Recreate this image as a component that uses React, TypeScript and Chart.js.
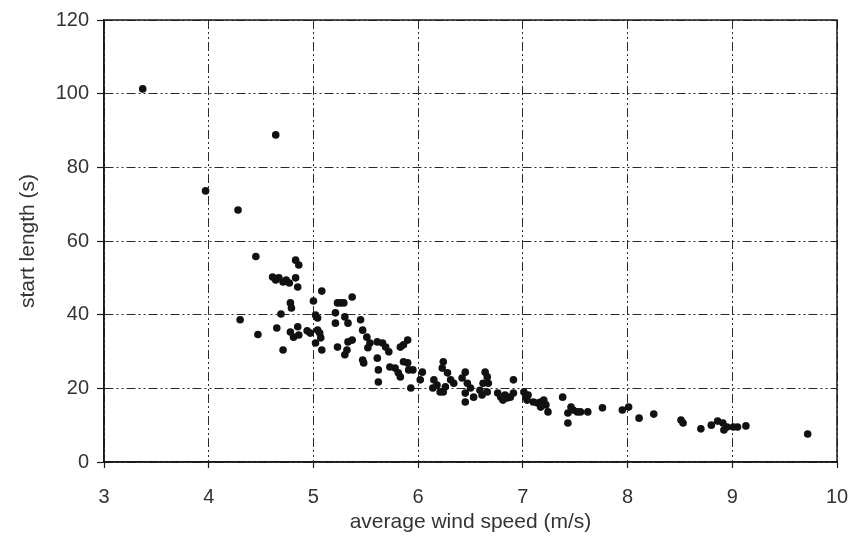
import React, { useEffect, useRef } from "react";
import { Chart, registerables } from "chart.js";

Chart.register(...registerables);

const windSpeed = [
  3.37, 3.97, 4.28, 4.64, 4.45, 4.30, 4.47, 4.83, 4.86, 4.61,
  4.64, 4.67, 4.71, 4.74, 4.77, 4.83, 4.85, 5.08, 5.00, 4.78,
  4.79, 4.69, 5.02, 5.04, 5.23, 5.21, 4.65, 4.85, 4.78, 4.81,
  4.86, 4.94, 4.97, 5.04, 5.06, 5.07, 5.02, 5.08, 4.71, 5.23,
  5.37, 5.26, 5.29, 5.21, 5.30, 5.33, 5.45, 5.47, 5.33, 5.37,
  5.30, 5.32, 5.51, 5.54, 5.52, 5.61, 5.66, 5.69, 5.72, 5.47,
  5.48, 5.61, 5.62, 5.83, 5.90, 5.73, 5.78, 5.81, 5.83, 5.86,
  5.90, 5.62, 5.91, 5.86, 5.95, 6.04, 6.02, 5.93, 6.24, 6.23,
  6.28, 6.31, 6.34, 6.15, 6.18, 6.14, 6.21, 6.24, 6.26, 6.45,
  6.42, 6.47, 6.50, 6.45, 6.45, 6.53, 6.64, 6.66, 6.62, 6.67,
  6.59, 6.66, 6.61, 6.76, 6.79, 6.85, 6.91, 6.83, 6.88, 6.91,
  6.81, 7.01, 7.03, 7.04, 7.05, 7.10, 7.14, 7.17, 7.20, 7.22,
  7.24, 7.17, 7.38, 7.43, 7.46, 7.48, 7.52, 7.55, 7.62, 7.43,
  7.76, 7.95, 8.01, 8.11, 8.25, 8.51, 8.53, 8.70, 8.80, 8.86,
  8.91, 8.92, 8.95, 9.01, 9.05, 9.13, 9.72,
];

const startLength = [
  101.3, 73.6, 68.4, 88.8, 55.8, 38.6, 34.6, 54.8, 53.5, 50.2,
  49.4, 50.0, 48.9, 49.4, 48.6, 50.0, 47.5, 46.4, 43.7, 43.2,
  41.8, 40.2, 39.9, 39.1, 43.2, 37.7, 36.4, 36.7, 35.3, 33.9,
  34.5, 35.6, 35.0, 35.8, 35.0, 33.7, 32.3, 30.4, 30.4, 31.2,
  44.8, 43.2, 43.2, 40.5, 39.4, 37.7, 38.6, 35.8, 32.6, 33.1,
  29.1, 30.4, 33.9, 32.3, 31.0, 32.6, 32.3, 31.2, 29.9, 27.7,
  26.9, 28.2, 25.0, 31.2, 33.1, 25.8, 25.5, 24.2, 23.1, 27.2,
  26.9, 21.7, 25.0, 31.8, 25.0, 24.4, 22.3, 20.1, 27.2, 25.5,
  24.2, 22.3, 21.4, 22.3, 20.9, 20.1, 19.0, 19.0, 20.4, 24.4,
  22.8, 21.4, 20.1, 18.7, 16.3, 17.6, 24.4, 23.1, 21.4, 21.4,
  19.5, 19.0, 18.2, 18.7, 17.6, 17.4, 22.3, 18.2, 17.6, 18.7,
  16.8, 19.0, 17.6, 16.8, 18.2, 16.3, 16.0, 16.3, 16.8, 15.5,
  13.6, 14.9, 17.6, 13.3, 14.9, 14.1, 13.6, 13.6, 13.6, 10.6,
  14.7, 14.1, 14.9, 11.9, 13.0, 11.4, 10.6, 9.0, 10.0, 11.1,
  10.6, 8.7, 9.5, 9.5, 9.5, 9.8, 7.6,
];

const xTicks = [3, 4, 5, 6, 7, 8, 9, 10];
const yTicks = [0, 20, 40, 60, 80, 100, 120];

const FONT = "'Liberation Sans', Arial, sans-serif";
const DASH = [9, 3, 2, 3, 2, 3];

const framePlugin = {
  id: "frame",
  afterDraw(chart: any) {
    const { ctx, chartArea } = chart;
    ctx.save();
    ctx.strokeStyle = "#1a1a1a";
    ctx.lineWidth = 1.5;
    ctx.setLineDash([]);
    ctx.strokeRect(
      chartArea.left,
      chartArea.top,
      chartArea.right - chartArea.left,
      chartArea.bottom - chartArea.top
    );
    ctx.restore();
  },
};

const bgPlugin = {
  id: "bg",
  beforeDraw(chart: any) {
    const { ctx, width, height } = chart;
    ctx.save();
    ctx.fillStyle = "#ffffff";
    ctx.fillRect(0, 0, width, height);
    ctx.restore();
  },
};

export default function App() {
  const ref = useRef<HTMLCanvasElement | null>(null);

  useEffect(() => {
    if (!ref.current) return;
    const points = windSpeed.map((x, i) => ({ x, y: startLength[i] }));
    const chart = new Chart(ref.current, {
      type: "scatter",
      data: {
        datasets: [
          {
            data: points,
            backgroundColor: "#111111",
            borderColor: "#111111",
            borderWidth: 0,
            pointRadius: 3.8,
            pointHoverRadius: 3.8,
          },
        ],
      },
      plugins: [bgPlugin, framePlugin],
      options: {
        responsive: false,
        animation: false,
        layout: { padding: { top: 20, right: 13, left: 12, bottom: 8 } },
        plugins: {
          legend: { display: false },
          tooltip: { enabled: false },
        },
        scales: {
          x: {
            type: "linear",
            min: 3,
            max: 10,
            afterBuildTicks: (scale: any) => {
              scale.ticks = xTicks.map((v) => ({ value: v }));
            },
            afterFit: (scale: any) => {
              scale.height = 77;
              scale.paddingLeft = 0;
              scale.paddingRight = 0;
            },
            grid: {
              color: "#2a2a2a",
              lineWidth: 1,
              drawTicks: true,
              tickLength: 6,
              tickColor: "#1a1a1a",
              tickBorderDash: [],
              tickWidth: 1.2,
            },
            border: { display: true, color: "#1a1a1a", width: 1.5, dash: DASH },
            ticks: {
              color: "#333",
              padding: 17,
              font: { family: FONT, size: 20 },
              maxRotation: 0,
            },
            title: {
              display: true,
              text: "average wind speed (m/s)",
              color: "#333",
              font: { family: FONT, size: 21 },
            },
          },
          y: {
            type: "linear",
            min: 0,
            max: 120,
            afterBuildTicks: (scale: any) => {
              scale.ticks = yTicks.map((v) => ({ value: v }));
            },
            afterFit: (scale: any) => {
              scale.width = 92;
              scale.paddingTop = 0;
              scale.paddingBottom = 0;
            },
            grid: {
              color: "#2a2a2a",
              lineWidth: 1,
              drawTicks: true,
              tickLength: 7,
              tickColor: "#1a1a1a",
              tickBorderDash: [],
              tickWidth: 1.2,
            },
            border: { display: true, color: "#1a1a1a", width: 1.5, dash: DASH },
            ticks: {
              color: "#333",
              padding: 8,
              font: { family: FONT, size: 20 },
            },
            title: {
              display: true,
              text: "start length (s)",
              color: "#333",
              font: { family: FONT, size: 21 },
            },
          },
        },
      },
    });
    return () => chart.destroy();
  }, []);

  return (
    <div
      style={{
        position: "fixed",
        left: 0,
        top: 0,
        width: 850,
        height: 547,
        background: "#fff",
      }}
    >
      <canvas ref={ref} width={850} height={547} style={{ display: "block" }} />
    </div>
  );
}
